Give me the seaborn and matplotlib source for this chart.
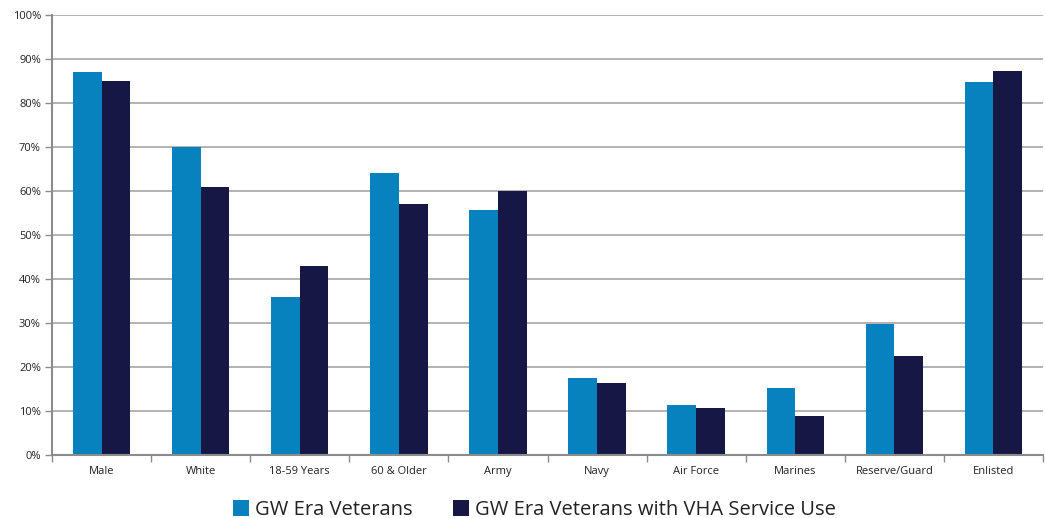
import matplotlib
matplotlib.use("Agg")
import matplotlib.pyplot as plt
import seaborn as sns
import pandas as pd
import numpy as np
from matplotlib.ticker import FixedLocator, FuncFormatter

categories = ["Male", "White", "18-59 Years", "60 & Older", "Army", "Navy",
              "Air Force", "Marines", "Reserve/Guard", "Enlisted"]
gw_era = [87, 70, 36, 64, 55.7, 17.6, 11.3, 15.3, 29.8, 84.8]
gw_vha = [85, 61, 43, 57, 60, 16.4, 10.6, 8.9, 22.5, 87.3]
series_names = ["GW Era Veterans", "GW Era Veterans with VHA Service Use"]
y_ticks = [0, 10, 20, 30, 40, 50, 60, 70, 80, 90, 100]

df = pd.DataFrame({
    "category": categories * 2,
    "value": gw_era + gw_vha,
    "series": [series_names[0]] * len(categories) + [series_names[1]] * len(categories),
})

sns.set_style("white")
plt.rcParams["font.family"] = ["Open Sans", "DejaVu Sans"]

fig = plt.figure(figsize=(10.45, 5.18), dpi=100)
ax = fig.add_axes([52 / 1045, 1 - 455 / 518, (1043 - 52) / 1045, 440 / 518])

palette = {series_names[0]: "#0782BF", series_names[1]: "#161744"}
sns.barplot(data=df, x="category", y="value", hue="series", palette=palette,
            width=0.58, ax=ax, saturation=1, edgecolor="none", legend=True)

ax.set_ylim(0, 100)
ax.set_xlim(-0.5, len(categories) - 0.5)
ax.yaxis.set_major_locator(FixedLocator(y_ticks))
ax.yaxis.set_major_formatter(FuncFormatter(lambda v, p: f"{int(v)}%"))
ax.grid(axis="y", color="#A6A6A6", linewidth=1.2)
ax.set_axisbelow(True)
ax.set_xlabel("")
ax.set_ylabel("")

for s in ["top", "right"]:
    ax.spines[s].set_visible(False)
for s in ["left", "bottom"]:
    ax.spines[s].set_color("#8C8C8C")
    ax.spines[s].set_linewidth(1.5)

ax.tick_params(axis="y", which="major", length=5, color="#8C8C8C", width=1,
               labelsize=8, labelcolor="#222222", left=True, pad=3)
ax.tick_params(axis="x", which="major", length=0, labelsize=8, labelcolor="#222222", pad=8)
ax.xaxis.set_minor_locator(FixedLocator(np.arange(-0.5, len(categories), 1.0)))
ax.tick_params(axis="x", which="minor", length=5, color="#8C8C8C", width=1, bottom=True)

handles, labels = ax.get_legend_handles_labels()
ax.legend(handles, labels, loc="center", bbox_to_anchor=(0.487, -0.125),
          ncol=2, frameon=False, fontsize=14.5, handlelength=0.8, handleheight=0.8,
          handletextpad=0.3, columnspacing=2.0, labelcolor="#222222",
          borderpad=0, borderaxespad=0)

fig.savefig("out.png", dpi=100)
